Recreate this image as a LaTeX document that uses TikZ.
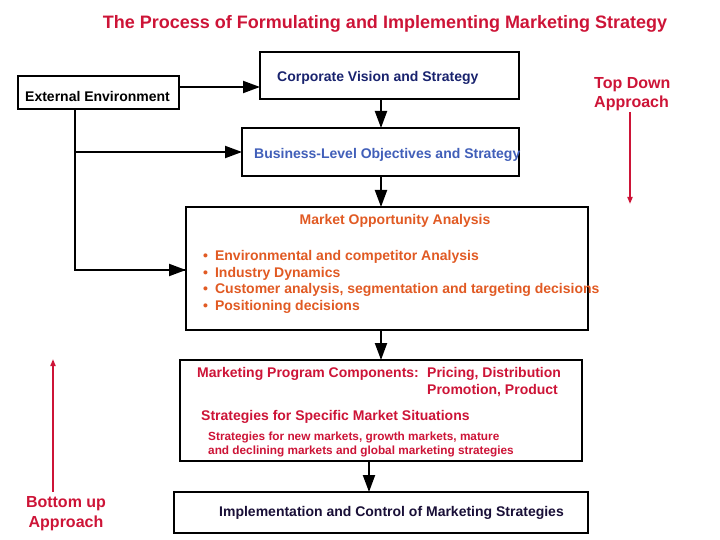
\documentclass[tikz,border=0pt]{standalone}
\usepackage{fontspec}
\setmainfont{Liberation Sans}
\usetikzlibrary{arrows.meta}
\definecolor{ttlred}{RGB}{205,20,55}
\definecolor{corpnavy}{RGB}{25,35,110}
\definecolor{busblue}{RGB}{65,95,185}
\definecolor{mktorange}{RGB}{225,90,35}
\definecolor{prgred}{RGB}{205,20,55}
\definecolor{impnavy}{RGB}{25,15,55}
\tikzset{
  boxshape/.style={draw=black, line width=2pt, fill=white},
  flow/.style={line width=2pt, -{Triangle[length=17pt,width=12pt]}},
  plain/.style={line width=2pt},
  redarrow/.style={draw=ttlred, line width=2pt, -{Triangle[length=7pt,width=5pt]}},
  boxtxt/.style={font=\fontsize{14}{17}\selectfont\bfseries, inner sep=0pt},
  smalltxt/.style={font=\fontsize{11.8}{14}\selectfont\bfseries, inner sep=0pt},
  apptxt/.style={font=\fontsize{16}{19}\selectfont\bfseries, text=ttlred, inner sep=0pt},
}
\begin{document}
\begin{tikzpicture}[x=1pt,y=-1pt]
\useasboundingbox (0,0) rectangle (720,540);
% title
\node[font=\fontsize{18}{22}\selectfont\bfseries, text=ttlred, inner sep=0pt] (title) at (385,24) {The Process of Formulating and Implementing Marketing Strategy};
% boxes
\draw[boxshape] (18,76) rectangle (179,109);
\node[boxtxt, anchor=west] (ext) at (25,96) {External Environment};
\coordinate (extR) at (179,87);
\coordinate (extB) at (75,109);
\draw[boxshape] (260,52) rectangle (519,99);
\node[boxtxt, text=corpnavy, anchor=west] (corp) at (277,78) {Corporate Vision and Strategy};
\coordinate (corpL) at (260,87);
\coordinate (corpB) at (381,99);
\draw[boxshape] (242,128) rectangle (519,176);
\node[boxtxt, text=busblue, anchor=west] (bus) at (254,155) {Business-Level Objectives and Strategy};
\coordinate (busT) at (381,128);
\coordinate (busB) at (381,176);
\coordinate (busL) at (242,152);
\draw[boxshape] (186,207) rectangle (588,330);
\coordinate (mktT) at (381,207);
\coordinate (mktB) at (381,330);
\coordinate (mktL) at (186,270);
\node[boxtxt, text=mktorange] (mkt) at (395,221) {Market Opportunity Analysis};
\foreach \y/\t [count=\i] in {257/{Environmental and competitor Analysis},274/{Industry Dynamics},290/{Customer analysis, segmentation and targeting decisions},307/{Positioning decisions}}{
  \node[boxtxt, text=mktorange, anchor=west] (b\i) at (203,\y) {\textbullet\hspace{7pt}\t};
}
\draw[boxshape] (180,360) rectangle (582,461);
\coordinate (prgT) at (381,360);
\coordinate (prgB) at (369,461);
\node[boxtxt, text=prgred, anchor=west] (p1) at (197,374) {Marketing Program Components:};
\node[boxtxt, text=prgred, anchor=west] (p2) at (427,374) {Pricing, Distribution};
\node[boxtxt, text=prgred, anchor=west] (p3) at (427,391) {Promotion, Product};
\node[boxtxt, text=prgred, anchor=west] (p4) at (201,417) {Strategies for Specific Market Situations};
\node[smalltxt, text=prgred, anchor=west] (p5) at (208,437) {Strategies for new markets, growth markets, mature};
\node[smalltxt, text=prgred, anchor=west] (p6) at (208,451) {and declining markets and global marketing strategies};
\draw[boxshape] (174,492) rectangle (588,533);
\coordinate (impT) at (369,492);
\node[boxtxt, text=impnavy, anchor=west] (imp) at (219,513) {Implementation and Control of Marketing Strategies};
% connectors
\draw[flow] (extR) -- (corpL);
\draw[plain] (extB) |- (mktL);
\draw[flow] (75,270) -- (mktL);
\draw[flow] (75,152) -- (busL);
\draw[flow] (corpB) -- (busT);
\draw[flow] (busB) -- (mktT);
\draw[flow] (mktB) -- (prgT);
\draw[flow] (prgB) -- (impT);
% approach labels
\node[apptxt, anchor=west] (td1) at (594,85) {Top Down};
\node[apptxt, anchor=west] (td2) at (594,103) {Approach};
\coordinate (tdEnd) at (630,204);
\draw[redarrow] (630,112) -- (tdEnd);
\node[apptxt] (bu1) at (66,504) {Bottom up};
\node[apptxt] (bu2) at (66,523) {Approach};
\coordinate (buEnd) at (53,359);
\draw[redarrow] (53,492) -- (buEnd);
\end{tikzpicture}
\end{document}
